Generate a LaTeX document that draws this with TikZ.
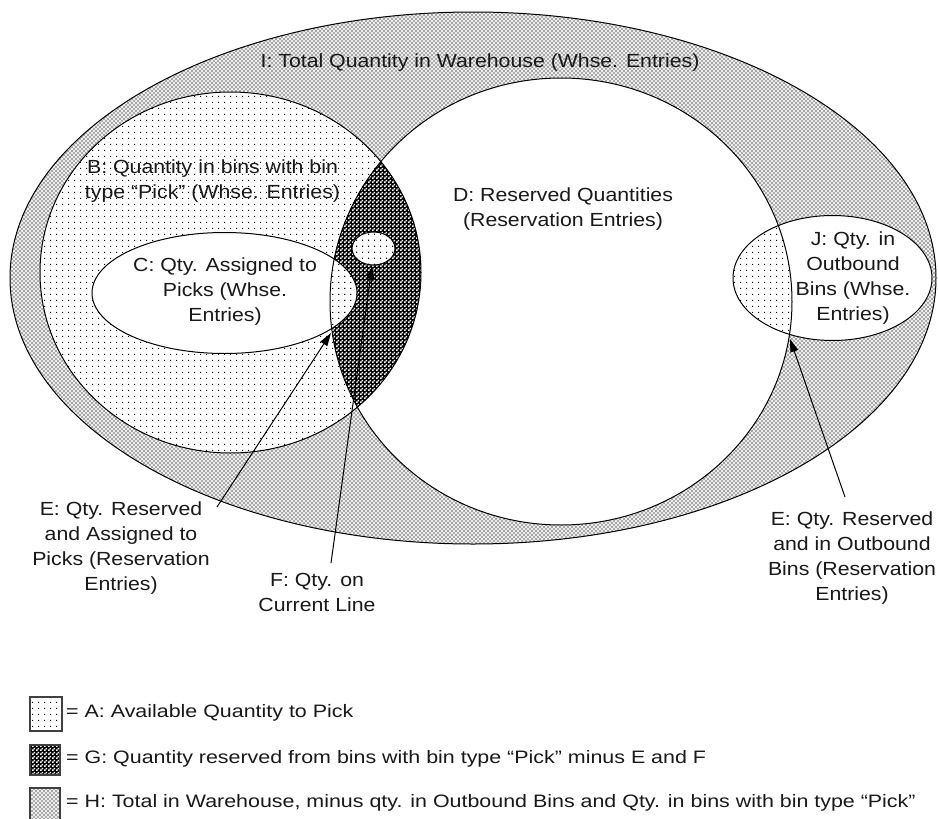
\documentclass[tikz,border=0pt]{standalone}
\usepackage{fontspec}
\setmainfont{Liberation Sans}
\newfontfamily\diagfont[FakeStretch=1.12]{Liberation Sans}
\newfontfamily\legfont[FakeStretch=1.19]{Liberation Sans}
\usetikzlibrary{patterns,arrows.meta}

\pgfdeclarepatternformonly{adots}{\pgfqpoint{0pt}{0pt}}{\pgfqpoint{6pt}{6pt}}{\pgfqpoint{6pt}{6pt}}{%
  \pgfpathrectangle{\pgfqpoint{2.4pt}{2.4pt}}{\pgfqpoint{1.3pt}{1.3pt}}\pgfusepath{fill}}
\pgfdeclarepatternformonly{gdots}{\pgfqpoint{0pt}{0pt}}{\pgfqpoint{4pt}{4pt}}{\pgfqpoint{4pt}{4pt}}{%
  \pgfpathrectangle{\pgfqpoint{0.1pt}{0.1pt}}{\pgfqpoint{1.8pt}{1.8pt}}%
  \pgfpathrectangle{\pgfqpoint{2.1pt}{2.1pt}}{\pgfqpoint{1.8pt}{1.8pt}}\pgfusepath{fill}}
\pgfdeclarepatternformonly{hcross}{\pgfqpoint{-0.5pt}{-0.5pt}}{\pgfqpoint{4.5pt}{4.5pt}}{\pgfqpoint{4pt}{4pt}}{%
  \pgfsetlinewidth{0.5pt}%
  \pgfpathmoveto{\pgfqpoint{-0.5pt}{-0.5pt}}\pgfpathlineto{\pgfqpoint{4.5pt}{4.5pt}}%
  \pgfpathmoveto{\pgfqpoint{-0.5pt}{4.5pt}}\pgfpathlineto{\pgfqpoint{4.5pt}{-0.5pt}}%
  \pgfusepath{stroke}}

\tikzset{
  txt/.style={font=\diagfont\fontsize{19}{25}\selectfont, align=center, inner sep=0pt, text=black!90},
  leg/.style={font=\legfont\fontsize{18}{22}\selectfont, anchor=west, inner sep=0pt, text=black!90},
  arr/.style={-{Triangle[length=13pt,width=8pt]}, line width=1pt, draw=black},
  outline/.style={draw=black, line width=1pt},
  hfill/.style={pattern=hcross, pattern color=black!38},
  afill/.style={pattern=adots, pattern color=black},
  gfill/.style={pattern=gdots, pattern color=white},
  legbox/.style={draw=black!75, line width=1.3pt}
}

\begin{document}
\begin{tikzpicture}[x=1pt,y=-1pt]
\useasboundingbox (0,0) rectangle (938,819);
\fill[white] (0,0) rectangle (938,819);

% I : total (H pattern)
\fill[black!4] (473,278) ellipse [x radius=463pt, y radius=266pt];
\fill[hfill] (473,278) ellipse [x radius=463pt, y radius=266pt];
% B : pick bins (dotted)
\fill[white] (230.5,272.5) ellipse [x radius=190.5pt, y radius=180.5pt];
\fill[afill] (230.5,272.5) ellipse [x radius=190.5pt, y radius=180.5pt];
% D : reserved (white)
\fill[white] (561,301.5) ellipse [x radius=231pt, y radius=223.5pt];
% G : B and D (dark)
\begin{scope}
  \clip (561,301.5) ellipse [x radius=231pt, y radius=223.5pt];
  \fill[black] (230.5,272.5) ellipse [x radius=190.5pt, y radius=180.5pt];
  \fill[gfill] (230.5,272.5) ellipse [x radius=190.5pt, y radius=180.5pt];
\end{scope}
% C : assigned to picks
\fill[white] (224.5,293) ellipse [x radius=132.5pt, y radius=60.5pt];
\begin{scope}
  \clip (561,301.5) ellipse [x radius=231pt, y radius=223.5pt];
  \fill[afill] (224.5,293) ellipse [x radius=132.5pt, y radius=60.5pt];
\end{scope}
% F : current line
\fill[white] (373.5,248.5) ellipse [x radius=21.5pt, y radius=16.5pt];
\fill[afill] (373.5,248.5) ellipse [x radius=21.5pt, y radius=16.5pt];
% J : outbound bins
\fill[white] (832.5,278) ellipse [x radius=99.5pt, y radius=62.5pt];
\begin{scope}
  \clip (561,301.5) ellipse [x radius=231pt, y radius=223.5pt];
  \fill[afill] (832.5,278) ellipse [x radius=99.5pt, y radius=62.5pt];
\end{scope}

% outlines
\draw[outline] (473,278) ellipse [x radius=463pt, y radius=266pt];
\draw[outline] (230.5,272.5) ellipse [x radius=190.5pt, y radius=180.5pt];
\draw[outline] (561,301.5) ellipse [x radius=231pt, y radius=223.5pt];
\draw[outline] (224.5,293) ellipse [x radius=132.5pt, y radius=60.5pt];
\draw[outline] (373.5,248.5) ellipse [x radius=21.5pt, y radius=16.5pt];
\draw[outline] (832.5,278) ellipse [x radius=99.5pt, y radius=62.5pt];

% labels
\node[txt] (labI) at (480,63) {I: Total Quantity in Warehouse (Whse. Entries)};
\node[txt] (labB) at (212.5,181.5) {B: Quantity in bins with bin\\type “Pick” (Whse. Entries)};
\node[txt] (labD) at (563,209.5) {D: Reserved Quantities\\(Reservation Entries)};
\node[txt] (labC) at (225,292) {C: Qty. Assigned to\\Picks (Whse.\\Entries)};
\node[txt] (labJ) at (853,278) {J: Qty. in\\Outbound\\Bins (Whse.\\Entries)};
\node[txt] (labE1) at (121,548) {E: Qty. Reserved\\and Assigned to\\Picks (Reservation\\Entries)};
\node[txt] (labF) at (317,592) {F: Qty. on\\Current Line};
\node[txt] (labE2) at (852,558.5) {E: Qty. Reserved\\and in Outbound\\Bins (Reservation\\Entries)};

% arrows
\coordinate (e1s) at (217,507);
\coordinate (e1t) at (331,333);
\coordinate (fs) at (331,563);
\coordinate (ft) at (372,266);
\coordinate (e2s) at (845,497);
\coordinate (e2t) at (790,339);
\draw[arr] (e1s) -- (e1t);
\draw[arr] (fs) -- (ft);
\draw[arr] (e2s) -- (e2t);

% legend
\fill[white] (30,697) rectangle (62,731);
\fill[afill] (30,697) rectangle (62,731);
\draw[legbox] (30,697) rectangle (62,731);
\fill[black] (30,745) rectangle (60,775);
\fill[gfill] (30,745) rectangle (60,775);
\draw[legbox] (30,745) rectangle (60,775);
\fill[black!4] (30,788) rectangle (60,822);
\fill[hfill] (30,788) rectangle (60,822);
\draw[legbox] (30,788) rectangle (60,822);

\node[leg] (legA) at (66,713) {= A: Available Quantity to Pick};
\node[leg] (legG) at (66,759) {= G: Quantity reserved from bins with bin type “Pick” minus E and F};
\node[leg] (legH) at (66,803) {= H: Total in Warehouse, minus qty. in Outbound Bins and Qty. in bins with bin type “Pick”};
\end{tikzpicture}
\end{document}
